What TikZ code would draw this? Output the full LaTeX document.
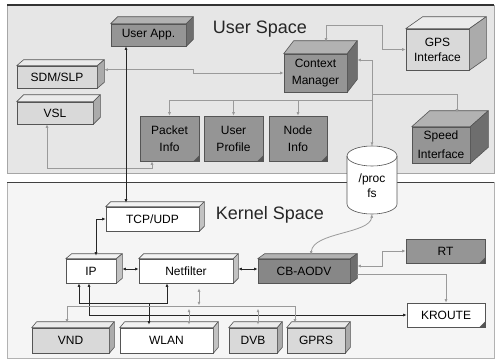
\documentclass[tikz,border=0pt]{standalone}
\usepackage{fontspec}
\setmainfont{Liberation Sans}
\usetikzlibrary{arrows.meta,calc}
\definecolor{ubg}{HTML}{E6E6E6}
\definecolor{kbg}{HTML}{F5F5F5}
\definecolor{dkF}{HTML}{959595}
\definecolor{dkT}{HTML}{B2B2B2}
\definecolor{dkR}{HTML}{6E6E6E}
\definecolor{cbF}{HTML}{878787}
\definecolor{ltF}{HTML}{D9D9D9}
\definecolor{ltT}{HTML}{EBEBEB}
\definecolor{ltR}{HTML}{ABABAB}
\definecolor{whF}{HTML}{FFFFFF}
\definecolor{whT}{HTML}{F2F2F2}
\definecolor{whR}{HTML}{C2C2C2}
\definecolor{edge}{HTML}{555555}
\definecolor{gline}{HTML}{9A9A9A}
\definecolor{bline}{HTML}{262626}
\begin{document}
\begin{tikzpicture}[x=1pt,y=-1pt,
  >={Latex[length=3.5pt,width=3pt]},
  box/.style={draw=edge, line width=0.6pt, inner sep=0pt, align=center,
    font=\fontsize{12}{17}\selectfont},
  gl/.style={draw=gline, line width=0.8pt},
  bl/.style={draw=bline, line width=0.9pt},
  title/.style={font=\fontsize{18}{20}\selectfont, text=black!85}]
\useasboundingbox (0,0) rectangle (497,362);
\fill[white] (0,0) rectangle (497,362);
% panels
\fill[ubg] (7,5) rectangle (494,173);
\draw[black!35, line width=0.8pt] (7,5) -- (7,173) -- (494,173) -- (494,5);
\draw[black!80, line width=1.2pt] (7,5) -- (494,5);
\fill[kbg] (7,182) rectangle (494,358);
\draw[black!30, line width=0.8pt] (7,182) -- (7,358) -- (494,358) -- (494,182);
\draw[black!75, line width=1pt] (7,182) -- (494,182);
\node[title] (us) at (260,29) {User Space};
\node[title] (ks) at (270,215) {Kernel Space};
% user space nodes
\node[box, fill=dkF, minimum width=75pt, minimum height=22pt] (userapp) at (148.5,35) {User App.};
\node[box, fill=ltF, minimum width=80pt, minimum height=22pt] (sdm) at (57,77) {SDM/SLP};
\node[box, fill=ltF, minimum width=76pt, minimum height=22pt] (vsl) at (55,113) {VSL};
\node[box, fill=dkF, minimum width=59pt, minimum height=45pt] (packet) at (169.5,138.5) {Packet\\Info};
\node[box, fill=dkF, minimum width=59pt, minimum height=45pt] (profile) at (233.5,138.5) {User\\Profile};
\node[box, fill=dkF, minimum width=58pt, minimum height=45pt] (nodeinfo) at (298,138.5) {Node\\Info};
\node[box, fill=dkF, minimum width=63pt, minimum height=38pt] (cm) at (315.5,73) {Context\\Manager};
\node[box, fill=ltF, minimum width=63pt, minimum height=41pt, font=\fontsize{12}{15}\selectfont] (gps) at (437.5,49.5) {GPS\\Interface};
\node[box, fill=dkF, minimum width=58pt, minimum height=36pt, font=\fontsize{12}{19}\selectfont] (speed) at (441,145) {Speed\\Interface};
% kernel nodes
\node[box, fill=whF, minimum width=93pt, minimum height=24pt] (tcp) at (152.5,219) {TCP/UDP};
\node[box, fill=whF, minimum width=50pt, minimum height=24pt] (ip) at (91,271) {IP};
\node[box, fill=whF, minimum width=94pt, minimum height=24pt] (netfilter) at (186,271) {Netfilter};
\node[box, fill=cbF, minimum width=92pt, minimum height=24pt] (cbaodv) at (304,271) {CB-AODV};
\node[box, fill=dkF, minimum width=79pt, minimum height=24pt] (rt) at (445.5,251) {RT};
\node[box, fill=whF, minimum width=78pt, minimum height=24pt] (kroute) at (446,315) {KROUTE};
\node[box, fill=ltF, minimum width=77pt, minimum height=25pt] (vnd) at (70.5,340.5) {VND};
\node[box, fill=whF, minimum width=93pt, minimum height=25pt] (wlan) at (166.5,340.5) {WLAN};
\node[box, fill=ltF, minimum width=48pt, minimum height=25pt] (dvb) at (253,340.5) {DVB};
\node[box, fill=ltF, minimum width=58pt, minimum height=25pt] (gprs) at (316,340.5) {GPRS};
% 3D faces
\foreach \n/\dx/\dy/\cc in {userapp/7/7/dk, sdm/7/6/lt, vsl/7/7/lt, cm/10/13/dk,
    gps/17/12/lt, speed/18/16/dk, tcp/5/5/wh, ip/6/5/wh, netfilter/5/5/wh,
    cbaodv/7/5/dk, vnd/5/6/lt, wlan/5/6/wh, dvb/5/6/lt, gprs/5/6/lt} {
  \filldraw[draw=edge, line width=0.6pt, fill=\cc T, line join=round]
    (\n.north west) -- ++(\dx,-\dy) -- ($(\n.north east)+(\dx,-\dy)$) -- (\n.north east) -- cycle;
  \filldraw[draw=edge, line width=0.6pt, fill=\cc R, line join=round]
    (\n.north east) -- ++(\dx,-\dy) -- ($(\n.south east)+(\dx,-\dy)$) -- (\n.south east) -- cycle;
}
% note folds
\foreach \n in {packet,profile,nodeinfo,rt,kroute} {
  \fill[edge] ($(\n.south east)+(-6,0)$) -- ($(\n.south east)+(0,-6)$) -- (\n.south east) -- cycle;
}
% /proc fs cylinder
\filldraw[fill=white, draw=edge, line width=0.6pt]
  (347,156) -- (347,204) arc[start angle=180, end angle=0, x radius=25, y radius=10]
  -- (397,156) arc[start angle=0, end angle=-180, x radius=25, y radius=10] -- cycle;
\draw[edge, line width=0.6pt] (347,156) arc[start angle=180, end angle=0, x radius=25, y radius=10];
\node[minimum width=50pt, minimum height=68pt, inner sep=0pt] (proc) at (372,180) {};
\node[font=\fontsize{12}{15}\selectfont, align=center, inner sep=0pt] (proct) at (372,186) {/proc\\fs};
% user-space connectors
\draw[gl,<->] ($(sdm.north east)+(7,4)$) -| (193,73) -- (cm.west);
\draw[gl,<->] ($(cm.north)+(10.5,-12)$) |- (382,25) |- (gps.west);
\draw[gl,<->] ($(cm.east)+(10,-13)$) -- (372,60) -- (proc.north);
\coordinate (busS) at (372,94);
\coordinate (busI) at (372,100);
\draw[gl,->] (busS) -| ($(speed.north)+(16,-14)$);
\draw[gl,->] (busI) -| (packet.north);
\draw[gl,->] (profile.north |- busI) -- (profile.north);
\draw[gl,->] (nodeinfo.north |- busI) -- (nodeinfo.north);
\draw[gl,<->] ([xshift=-17.5pt]packet.south) -- ++(0,7) -| ([xshift=-8pt]vsl.south);
\draw[bl,<->] ([xshift=-22.5pt]userapp.south) -- ([xshift=-26.5pt,yshift=4pt]tcp.north);
% kernel connectors
\draw[gl,<->] (proc.south) .. controls (370,234) and (313,232) .. ($(cbaodv.north)+(7,-4)$);
\draw[bl,<->] (tcp.west) -| ($(ip.north)+(5,-3)$);
\draw[bl,<->] ($(ip.east)+(6,-2)$) -- ($(netfilter.west)+(0,-2)$);
\draw[bl,<->] ($(netfilter.east)+(5,-2)$) -- ($(cbaodv.west)+(0,-2)$);
\draw[gl,<->] ($(cbaodv.east)+(7,-5)$) -- ++(25,0) |- (rt.west);
\draw[gl,->] ($(cbaodv.east)+(7,3)$) -| (kroute.north);
\draw[bl,<->] ([xshift=-2pt]ip.south) |- (kroute.west);
\draw[bl,<->] ([xshift=-12pt]ip.south) -- ++(0,20) coordinate (bA) -| ([xshift=-19pt]netfilter.south);
\coordinate (w1) at ([xshift=-17.5pt,yshift=3pt]wlan.north);
\draw[bl,->] (w1 |- bA) -- (w1);
\draw[gl,<->] ($(vnd.north)+(-3.5,-5)$) -- ++(0,-16) -| ($(gprs.north)+(-21,-5)$);
\draw[gl,<->] ($(netfilter.south)+(13,5)$) -- ++(0,17);
\draw[gl,<->] ($(wlan.north)+(22.5,-19)$) -- ++(0,16);
\draw[gl,<->] ($(dvb.north)+(5,-19)$) -- ++(0,16);
\end{tikzpicture}
\end{document}
